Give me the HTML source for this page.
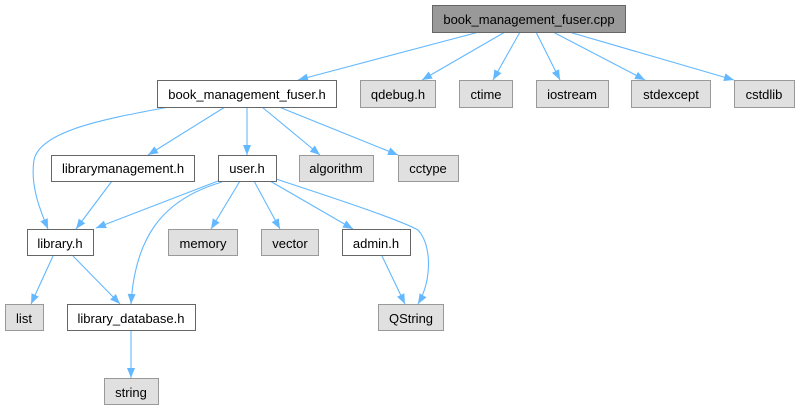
<!DOCTYPE html>
<html><head><meta charset="utf-8"><style>
html,body{margin:0;padding:0;background:#fff;width:800px;height:411px;overflow:hidden}
text{font-family:"Liberation Sans",sans-serif;font-size:13px;fill:#000}
</style></head><body>
<svg width="800" height="411" viewBox="0 0 800 411" xmlns="http://www.w3.org/2000/svg">
<defs><marker id="a" viewBox="0 0 10 8" refX="10" refY="4" markerWidth="11" markerHeight="8" markerUnits="userSpaceOnUse" orient="auto"><path d="M0,0 L10,4 L0,8 z" fill="#63b8ff"/></marker></defs>
<g stroke="#63b8ff" stroke-width="1.1" fill="none" marker-end="url(#a)">
<path d="M479,32 L298,80"/>
<path d="M505,32 L422,80"/>
<path d="M520,32 L493,80"/>
<path d="M536,32 L560,80"/>
<path d="M553,32 L645,80"/>
<path d="M569,32 L734,80"/>
<path d="M169,107 C110,118 40,130 34,160 C30,185 40,210 48,229"/>
<path d="M225,107 L148,155"/>
<path d="M247,107 L247,155"/>
<path d="M262,107 L320,155"/>
<path d="M279,107 L398,155"/>
<path d="M112,181 L76,229"/>
<path d="M218,181 L96,228"/>
<path d="M222,182 C160,200 135,240 131,304"/>
<path d="M240,181 L211,229"/>
<path d="M254,181 L280,229"/>
<path d="M270,181 L353,229"/>
<path d="M276,179 C340,200 400,220 418,230 C432,245 432,280 418,304"/>
<path d="M53,256 L31,304"/>
<path d="M73,256 L120,304"/>
<path d="M382,256 L405,304"/>
<path d="M131,330 L131,378"/>
</g>
<g stroke-width="1">
<rect x="432.5" y="5.5" width="193" height="27" fill="#999" stroke="#666"/>
<rect x="157.5" y="80.5" width="179" height="27" fill="#fff" stroke="#666"/>
<rect x="360.5" y="80.5" width="75" height="27" fill="#e0e0e0" stroke="#999"/>
<rect x="459.5" y="80.5" width="53" height="27" fill="#e0e0e0" stroke="#999"/>
<rect x="536.5" y="80.5" width="72" height="27" fill="#e0e0e0" stroke="#999"/>
<rect x="631.5" y="80.5" width="79" height="27" fill="#e0e0e0" stroke="#999"/>
<rect x="734.5" y="80.5" width="60" height="27" fill="#e0e0e0" stroke="#999"/>
<rect x="51.5" y="155.5" width="143" height="26" fill="#fff" stroke="#666"/>
<rect x="218.5" y="155.5" width="58" height="26" fill="#fff" stroke="#666"/>
<rect x="299.5" y="155.5" width="74" height="26" fill="#e0e0e0" stroke="#999"/>
<rect x="398.5" y="155.5" width="60" height="26" fill="#e0e0e0" stroke="#999"/>
<rect x="27.5" y="229.5" width="66" height="26" fill="#fff" stroke="#666"/>
<rect x="168.5" y="229.5" width="69" height="26" fill="#e0e0e0" stroke="#999"/>
<rect x="261.5" y="229.5" width="57" height="26" fill="#e0e0e0" stroke="#999"/>
<rect x="342.5" y="229.5" width="68" height="26" fill="#fff" stroke="#666"/>
<rect x="5.5" y="304.5" width="38" height="26" fill="#e0e0e0" stroke="#999"/>
<rect x="67.5" y="304.5" width="128" height="26" fill="#fff" stroke="#666"/>
<rect x="378.5" y="304.5" width="65" height="26" fill="#e0e0e0" stroke="#999"/>
<rect x="104.5" y="378.5" width="54" height="26" fill="#e0e0e0" stroke="#999"/>
</g>
<g text-anchor="middle">
<text x="529" y="24">book_management_fuser.cpp</text>
<text x="247" y="99">book_management_fuser.h</text>
<text x="398" y="99">qdebug.h</text>
<text x="486" y="99">ctime</text>
<text x="572" y="99">iostream</text>
<text x="671" y="99">stdexcept</text>
<text x="764" y="99">cstdlib</text>
<text x="123" y="173">librarymanagement.h</text>
<text x="247" y="173">user.h</text>
<text x="336" y="173">algorithm</text>
<text x="428" y="173">cctype</text>
<text x="60" y="248">library.h</text>
<text x="203" y="248">memory</text>
<text x="290" y="248">vector</text>
<text x="376" y="248">admin.h</text>
<text x="24" y="323">list</text>
<text x="131" y="323">library_database.h</text>
<text x="411" y="323">QString</text>
<text x="131" y="397">string</text>
</g>
</svg>
</body></html>
